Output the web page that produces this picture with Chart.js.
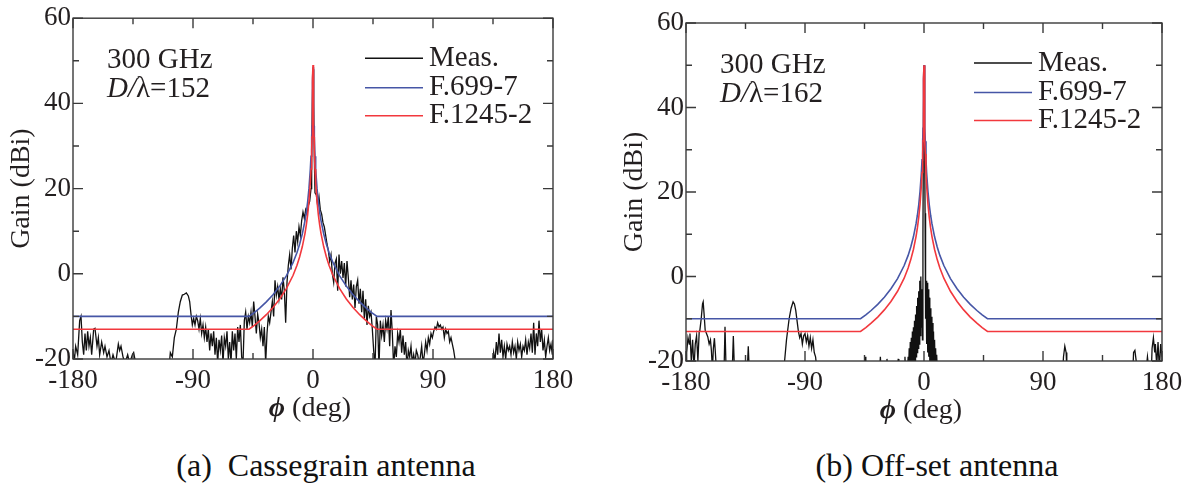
<!DOCTYPE html>
<html>
<head>
<meta charset="utf-8">
<script src="https://cdn.jsdelivr.net/npm/chart.js@4.4.1/dist/chart.umd.min.js"></script>
<style>
  body { margin: 0; background: #fff; width: 1194px; height: 492px; position: relative; overflow: hidden; }
  canvas { position: absolute; top: 0; }
  #cass { left: 0; }
  #offset { left: 600px; }
  .caption { position: absolute; top: 447px; font: 32px 'Liberation Serif', 'Times New Roman', serif; color: #111; white-space: pre; transform: translateX(-50%); }
</style>
</head>
<body>
<canvas id="cass" width="600" height="440"></canvas>
<canvas id="offset" width="594" height="440"></canvas>
<div class="caption" style="left:326px">(a)  Cassegrain antenna</div>
<div class="caption" style="left:937px">(b) Off-set antenna</div>
<script>
// axes
const phiTicks = [-180, -90, 0, 90, 180];
const phiMinor = [-135, -45, 45, 135];
const gainTicks = [-20, 0, 20, 40, 60];
const gainMinor = [-10, 10, 30, 50];
const seriesNames = ['Meas.', 'F.699-7', 'F.1245-2'];

// reference patterns (deg -> dBi)
const curvePhi = [-180, -48, -44, -40, -35, -30, -25, -20, -15, -12, -10, -8, -6, -5, -4, -3, -2, -1.5, -1, -0.75,
  -0.5, -0.25, 0, 0.25, 0.5, 0.75, 1, 1.5, 2, 3, 4, 5, 6, 8, 10, 12, 15, 20, 25, 30, 35, 40, 44, 48, 180];
const cassF699 = [-10, -10, -9.1, -8.05, -6.6, -4.9, -2.9, -0.5, 2.6, 5.0, 7, 9.4, 12.5, 14.5, 16.9, 20.1, 24.5, 27.6, 32, 34.7,
  34.7, 45, 48.5, 45, 34.7, 34.7, 32, 27.6, 24.5, 20.1, 16.9, 14.5, 12.5, 9.4, 7, 5.0, 2.6, -0.5, -2.9, -4.9, -6.6, -8.05, -9.1, -10, -10];
const cassF1245 = [-13, -13, -12.1, -11.05, -9.6, -7.9, -5.9, -3.5, -0.4, 2.0, 4, 6.4, 9.5, 11.5, 13.9, 17.1, 21.5, 24.6, 29, 32.1,
  34.7, 46, 49, 46, 34.7, 32.1, 29, 24.6, 21.5, 17.1, 13.9, 11.5, 9.5, 6.4, 4, 2.0, -0.4, -3.5, -5.9, -7.9, -9.6, -11.05, -12.1, -13, -13];
const offF699 = [-10, -10, -9.1, -8.05, -6.6, -4.9, -2.9, -0.5, 2.6, 5.0, 7, 9.4, 12.5, 14.5, 16.9, 20.1, 24.5, 27.6, 32, 35.1,
  35.1, 46.5, 50, 46.5, 35.1, 35.1, 32, 27.6, 24.5, 20.1, 16.9, 14.5, 12.5, 9.4, 7, 5.0, 2.6, -0.5, -2.9, -4.9, -6.6, -8.05, -9.1, -10, -10];
const offF1245 = [-13, -13, -12.1, -11.05, -9.6, -7.9, -5.9, -3.5, -0.4, 2.0, 4, 6.4, 9.5, 11.5, 13.9, 17.1, 21.5, 24.6, 29, 32.1,
  35.1, 47, 50, 47, 35.1, 32.1, 29, 24.6, 21.5, 17.1, 13.9, 11.5, 9.5, 6.4, 4, 2.0, -0.4, -3.5, -5.9, -7.9, -9.6, -11.05, -12.1, -13, -13];

// measured patterns [phi, gain]; -22 = below the -20 floor
const cassMeas = [[-180,-18],[-179,-20.5],[-178,-17],[-176.5,-19],[-175,-11],[-174,-10],[-173,-16],[-172,-19],[-171,-14],[-170,-18],
  [-169,-13.5],[-168,-17],[-167,-15],[-166,-19],[-164.5,-13],[-163.5,-12.8],[-162,-17],[-161,-15],[-160,-19],[-158.5,-16],
  [-157,-18.5],[-156,-17],[-154.5,-19.5],[-153,-18],[-151.5,-21],[-150,-19],[-148,-21],[-146,-16.5],[-145,-18],[-144,-17],
  [-142.5,-19.5],[-141,-21],[-139,-19],[-137.5,-21],[-135.5,-19],[-134.5,-18.5],[-133,-21],[-131,-22],[-108,-22],[-107,-18.5],
  [-105.5,-19.5],[-104,-15],[-102.5,-13],[-101,-9],[-99.5,-6.5],[-98,-5],[-96.5,-4.8],[-95,-4.5],[-93.5,-5.2],[-92.5,-6.5],
  [-91.5,-9.5],[-90.5,-12],[-89.5,-10.5],[-88.5,-12],[-87.5,-10],[-86.5,-11],[-85.5,-13],[-84.5,-10.5],[-83.5,-14],[-82.5,-12],
  [-81.5,-15],[-80.5,-12.5],[-79.5,-16],[-78.5,-13],[-77.5,-18],[-76.5,-14],[-75.5,-17],[-74.5,-13.5],[-73.5,-19],[-72.5,-15],
  [-71.5,-21],[-70.5,-15.5],[-69.5,-18],[-68.5,-14.5],[-67.5,-21],[-66.5,-15],[-65.5,-17],[-64.5,-13.5],[-63.5,-20],[-62.5,-16],
  [-61.5,-21],[-60.5,-13.5],[-59.5,-18],[-58.5,-14],[-57.5,-20],[-56.5,-12.5],[-55.5,-16],[-54.5,-12],[-53.5,-19.5],[-52.5,-21],
  [-51.5,-11],[-50.5,-9],[-49.5,-13],[-48.5,-10],[-47.5,-11.5],[-46.5,-9],[-45.5,-12.5],[-44.5,-6.5],[-43.5,-10],[-42.5,-14],
  [-41.5,-9.5],[-40.5,-11.5],[-39.5,-15],[-38.5,-13],[-37.5,-17],[-36.5,-12.5],[-35.5,-21],[-34.5,-14],[-33.5,-10],[-32.5,-11.5],
  [-31.5,-9],[-30.5,-6.5],[-29.5,-10],[-28.5,-1.5],[-27.5,-5],[-26.5,-3],[-25.5,-6],[-24.5,-3.5],[-23.5,-6],[-22.5,-0.8],
  [-21.5,-4],[-20.5,-11.5],[-19.5,-2],[-18.5,2],[-17.5,4.5],[-16.5,1],[-15.5,6],[-14.5,9],[-13.5,5],[-12.5,10],
  [-11.5,7.5],[-10.5,11],[-9.5,9],[-8.5,12.5],[-7.5,14.5],[-6.5,13],[-5.5,15],[-4.5,14],[-3.5,16],[-2.5,17],
  [-1.5,20],[-1,28],[-0.5,40],[0,48],[0.5,40],[1,27],[1.5,19],[2.5,18.5],[3.5,16],[4.5,18],
  [5.5,15],[6.5,14],[7.5,12],[8.5,11],[9.5,9],[10.5,7],[11.5,5.5],[12.5,3],[13.5,4.5],[14.5,0],
  [15.5,-2],[16.5,2.5],[17.5,3.5],[18.5,-4],[19.5,4.5],[20.5,0],[21.5,3],[22.5,-1],[23.5,2.5],[24.5,-3],
  [25.5,3],[26.5,-1],[27.5,-5.5],[28.5,-1.5],[29.5,-6],[30.5,-2.5],[31.5,-8],[32.5,-3],[33.5,-1.5],[34.5,-7],
  [35.5,-3.5],[36.5,-9],[37.5,-4],[38.5,-10.5],[39.5,-6],[40.5,-12],[41.5,-7.5],[42.5,-10],[43.5,-9],[44.5,-13],
  [45.5,-18],[46.5,-22],[47.5,-10],[48.5,-12],[49.5,-22],[50.5,-11],[51.5,-14.5],[52.5,-12],[53.5,-16],[54.5,-11],
  [55.5,-13],[56.5,-10],[57.5,-17],[58.5,-8.5],[59.5,-14],[60.5,-22],[61.5,-17],[62.5,-19.5],[63.5,-14],[64.5,-16],
  [65.5,-13],[66.5,-18.5],[67.5,-14.5],[68.5,-19],[69.5,-16],[70.5,-22],[71.5,-18],[72.5,-19.5],[73.5,-17],[74.5,-21],
  [75.5,-19],[76.5,-21],[77.5,-18],[78.5,-19],[79.5,-21],[80.5,-19.5],[81.5,-17],[82.5,-21],[83.5,-19],[84.5,-16],
  [85.5,-18],[86.5,-15],[87.5,-16.5],[88.5,-14],[89.5,-15],[90.5,-13.5],[91.5,-12.5],[92.5,-13],[93.5,-11.5],[94.5,-12.5],
  [95.5,-12],[96.5,-13],[97.5,-12.5],[98.5,-15],[99.5,-13],[100.5,-14],[101.5,-13.5],[102.5,-16],[103.5,-15],[104.5,-16.5],
  [105.5,-18],[106.5,-20],[107.5,-22],[134.5,-22],[135.5,-18.5],[136.5,-20.5],[137.5,-16],[138.5,-19],[139.5,-14],[140.5,-18.5],
  [141.5,-15.5],[142.5,-19.5],[143.5,-17],[144.5,-20],[145.5,-16.5],[146.5,-18],[147.5,-17],[148.5,-19],[149.5,-16],[150.5,-18.5],
  [151.5,-17],[152.5,-20],[153.5,-16],[154.5,-18],[155.5,-16.5],[156.5,-19.5],[157.5,-17],[158.5,-18],[159.5,-15.5],[160.5,-19],
  [161.5,-16],[162.5,-17.5],[163.5,-14],[164.5,-18.5],[165.5,-11.5],[166.5,-19],[167.5,-14],[168.5,-17],[169.5,-11],[170.5,-16],
  [171.5,-13],[172.5,-18],[173.5,-15.5],[174.5,-19.5],[175.5,-17],[176.5,-15],[177.5,-18],[178.5,-16.5],[179.5,-19],[180,-15.5]];

const offMeas = [[-180,-22],[-179.5,-18],[-178.5,-14.5],[-177.5,-16],[-177,-13.5],[-176,-20],[-175,-15],[-174,-22],[-173,-16],[-172,-14],
  [-171,-20],[-170,-13],[-169.5,-12.7],[-168.5,-10],[-167.5,-6.5],[-167,-6],[-166.3,-9],[-165.5,-12.7],[-164.5,-13.5],[-163.5,-14.3],
  [-162.5,-16],[-161.5,-15],[-160.8,-17.5],[-160,-22],[-159.3,-17],[-158.5,-14.6],[-157.8,-18],[-157,-22],[-151.2,-22],[-150.5,-11.9],
  [-149.7,-22],[-145,-22],[-144.2,-14.1],[-143.4,-22],[-133.6,-22],[-132.9,-16.5],[-132.2,-22],[-106,-22],[-104,-15],[-102,-10],
  [-100.5,-7.5],[-99,-6],[-98,-6.5],[-97,-8],[-96,-10.5],[-95,-13],[-94,-14.5],[-93,-13.5],[-92,-16],[-91,-14],
  [-90,-13.5],[-89,-15.5],[-88,-14],[-87,-16.5],[-86,-14.5],[-85,-17],[-84,-15],[-83,-18],[-82,-19],[-81,-22],
  [-45,-22],[-44.5,-19],[-44,-22],[-33.5,-22],[-33,-19],[-32.5,-22],[-28.5,-22],[-28,-19.5],[-27.5,-22],[-20,-22],
  [-19.5,-19.5],[-19,-22],[-14.8,-22],[-14.4,-19],[-14,-22],[-12.4,-22],
  [-12,-19],[-11.6,-22],[-11.2,-17],[-10.8,-22],[-10.4,-15.5],[-10,-21],[-9.6,-14.5],[-9.2,-22],[-8.8,-13],[-8.4,-20],
  [-8,-12],[-7.6,-21],[-7.2,-10.5],[-6.8,-20],[-6.4,-9],[-6,-19],[-5.6,-7],[-5.2,-18],[-4.8,-5],[-4.4,-17],
  [-4,-3.5],[-3.6,-16],[-3.2,-1],[-2.8,-14],[-2.4,0],[-2,-12],[-1.6,-3],[-1.2,-15],[-0.8,10],[-0.4,38],
  [0,50],[0.4,36],[0.8,15],[1.2,-10],[1.6,-1],[2,-16],[2.4,-1.5],[2.8,-18],[3.2,-3],[3.6,-19],
  [4,-5],[4.4,-20],[4.8,-7.5],[5.2,-21],[5.6,-9.5],[6,-21],[6.4,-11],[6.8,-22],[7.2,-13],[7.6,-22],
  [8,-15],[8.4,-22],[8.8,-17],[9.2,-22],[9.6,-18.5],[10,-22],[10.4,-20],[10.8,-22],
  [105,-22],[105.5,-19],[106.5,-16.5],[107.5,-18],[108,-22],[158,-22],[158.5,-18],[159.5,-17.5],[160.5,-20],[161,-22],
  [168,-22],[169,-19],[170,-22],[172,-22],[172.5,-17],[173.5,-14.5],[174.5,-18],[175,-16],[176,-21],[177,-15.5],
  [178,-22],[179,-16],[180,-19]];

const serif = "'Liberation Serif', 'Times New Roman', serif";
const ink = '#231f20';
const colors = ['#111111', '#4656a6', '#f2383d'];

const panelDecor = {
  id: 'panelDecor',
  afterDraw(chart, args, o) {
    const { ctx, chartArea: a, scales: { x, y } } = chart;
    ctx.save();
    // frame + inward ticks
    ctx.strokeStyle = '#3a3a3a';
    ctx.lineWidth = 1.4;
    ctx.beginPath();
    const yMarks = gainTicks.map(v => [v, 10]).concat(gainMinor.map(v => [v, 6]));
    yMarks.forEach(([v, len]) => {
      const py = y.getPixelForValue(v);
      ctx.moveTo(a.left, py); ctx.lineTo(a.left + len, py);
      ctx.moveTo(a.right, py); ctx.lineTo(a.right - len, py);
    });
    const xMarks = phiTicks.map(v => [v, 10]).concat(phiMinor.map(v => [v, 6]));
    xMarks.forEach(([v, len]) => {
      const px = x.getPixelForValue(v);
      ctx.moveTo(px, a.bottom); ctx.lineTo(px, a.bottom - len);
      ctx.moveTo(px, a.top); ctx.lineTo(px, a.top + len);
    });
    ctx.stroke();
    ctx.strokeRect(a.left, a.top, a.right - a.left, a.bottom - a.top);

    ctx.fillStyle = ink;
    ctx.textBaseline = 'middle';
    ctx.textAlign = 'left';
    // frequency and D/lambda note
    ctx.font = `29px ${serif}`;
    ctx.fillText('300 GHz', a.left + 34, a.top + 42);
    let tx = a.left + 34;
    ctx.font = `italic 29px ${serif}`;
    ctx.fillText('D/', tx, a.top + 71);
    tx += ctx.measureText('D/').width;
    ctx.font = `29px ${serif}`;
    ctx.fillText('λ=' + o.ratio, tx, a.top + 71);

    // legend
    const rows = [40, 69.5, 97.5];
    chart.data.datasets.forEach((ds, i) => {
      const ly = a.top + rows[i];
      ctx.strokeStyle = ds.borderColor;
      ctx.lineWidth = 1.5;
      ctx.beginPath();
      ctx.moveTo(a.right - 188, ly); ctx.lineTo(a.right - 130, ly);
      ctx.stroke();
      ctx.fillText(ds.label, a.right - 124, ly);
    });

    // axis titles
    ctx.font = `28px ${serif}`;
    ctx.save();
    ctx.translate(a.left - 51, (a.top + a.bottom) / 2);
    ctx.rotate(-Math.PI / 2);
    ctx.textAlign = 'center';
    ctx.fillText('Gain (dBi)', 0, 0);
    ctx.restore();

    ctx.font = `italic bold 28px ${serif}`;
    const wPhi = ctx.measureText('ϕ').width;
    ctx.font = `28px ${serif}`;
    const wDeg = ctx.measureText(' (deg)').width;
    let sx = (a.left + a.right) / 2 - 3 - (wPhi + wDeg) / 2;
    ctx.font = `italic bold 28px ${serif}`;
    ctx.fillText('ϕ', sx, a.bottom + 50);
    ctx.font = `28px ${serif}`;
    ctx.fillText(' (deg)', sx + wPhi, a.bottom + 50);
    ctx.restore();
  }
};

function makePanel(id, meas, f699, f1245, info) {
  const ctx = document.getElementById(id).getContext('2d');
  const tickFont = { family: serif, size: 27 };
  return new Chart(ctx, {
    type: 'line',
    data: {
      datasets: [
        { label: seriesNames[0], data: meas.map(p => ({ x: p[0], y: p[1] })), borderColor: colors[0], borderWidth: 1.3, order: 3 },
        { label: seriesNames[1], data: curvePhi.map((p, i) => ({ x: p, y: f699[i] })), borderColor: colors[1], borderWidth: 1.6, order: 2 },
        { label: seriesNames[2], data: curvePhi.map((p, i) => ({ x: p, y: f1245[i] })), borderColor: colors[2], borderWidth: 1.6, order: 1 }
      ]
    },
    options: {
      responsive: false,
      animation: false,
      devicePixelRatio: 1,
      elements: { point: { radius: 0 }, line: { tension: 0 } },
      layout: { padding: { top: info.top, right: info.right, left: 0, bottom: 0 } },
      plugins: { legend: { display: false }, tooltip: { enabled: false }, panelDecor: info },
      scales: {
        x: {
          type: 'linear', min: -180, max: 180,
          grid: { display: false, drawTicks: false },
          border: { display: false },
          afterBuildTicks: s => { s.ticks = phiTicks.map(v => ({ value: v })); },
          afterFit: s => { s.height = info.xHeight; },
          ticks: { font: tickFont, color: ink, padding: 6, maxRotation: 0, autoSkip: false, callback: v => String(v) }
        },
        y: {
          type: 'linear', min: -20, max: 60,
          grid: { display: false, drawTicks: false },
          border: { display: false },
          afterBuildTicks: s => { s.ticks = gainTicks.map(v => ({ value: v })); },
          afterFit: s => { s.width = info.yWidth; },
          ticks: { font: tickFont, color: ink, padding: 2, callback: v => String(v) }
        }
      }
    },
    plugins: [panelDecor]
  });
}

makePanel('cass', cassMeas, cassF699, cassF1245, { ratio: 152, top: 16, right: 47, xHeight: 81, yWidth: 73 });
makePanel('offset', offMeas, offF699, offF1245, { ratio: 162, top: 23, right: 32, xHeight: 79, yWidth: 86 });
</script>
</body>
</html>
